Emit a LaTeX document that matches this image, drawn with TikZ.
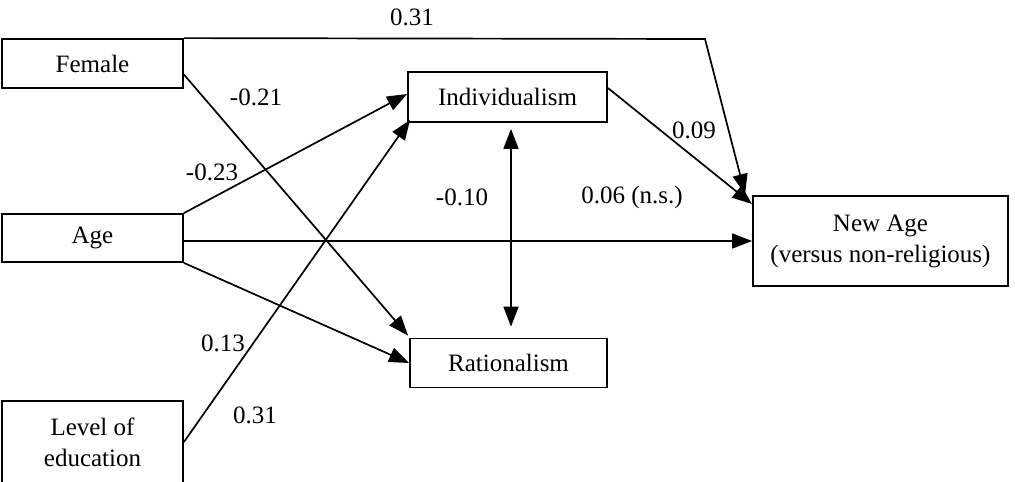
\documentclass[tikz,border=0pt]{standalone}
\usepackage{fontspec}
\setmainfont{Liberation Serif}
\usetikzlibrary{arrows.meta,calc}
\begin{document}
\begin{tikzpicture}[x=1pt,y=-1pt,
  box/.style={draw,line width=1.8pt,rectangle,inner sep=0pt,align=center,font=\fontsize{25}{31}\selectfont},
  lbl/.style={inner sep=0pt,font=\fontsize{25}{31}\selectfont},
  conn/.style={line width=1.7pt,-{Triangle[length=20pt,width=15pt]}},
  both/.style={line width=1.7pt,{Triangle[length=20pt,width=15pt]}-{Triangle[length=20pt,width=15pt]}}]
\useasboundingbox (0,0) rectangle (1015,482);
\node[box,minimum width=181pt,minimum height=49pt] (fem) at (92.5,63.5) {Female};
\node[box,minimum width=181pt,minimum height=48pt] (age) at (92.5,238) {Age};
\node[box,minimum width=181pt,minimum height=82pt] (edu) at (92.5,442) {Level of\\education};
\node[box,minimum width=199pt,minimum height=50pt] (ind) at (507.5,97) {Individualism};
\node[box,minimum width=197pt,minimum height=49pt] (rat) at (508.5,363) {Rationalism};
\node[box,minimum width=255pt,minimum height=90pt] (na) at (880.5,241) {New Age\\(versus non-religious)};
\coordinate (bend) at (705,39);
\draw[conn] (fem.north east) -- (bend) -- ($(na.north west)+(-7,-1)$);
\draw[conn] ($(fem.east)+(0,11)$) -- ($(rat.north west)+(-1,-2)$);
\draw[conn] (age.north east) -- ($(ind.west)+(0,-3)$);
\draw[conn] (edu.east) -- ($(ind.south west)+(3,-3)$);
\draw[conn] (na.west -| age.east) -- (na.west);
\draw[conn] (age.south east) -- (rat.west);
\draw[conn] ($(ind.east)+(0,-9)$) -- ($(na.north west)+(0,9)$);
\draw[both] ($(ind.south)+(3.5,6)$) -- ($(rat.north)+(2.5,-11)$);
\node[lbl] (l1) at (412,17) {0.31};
\node[lbl] (l2) at (256,97) {-0.21};
\node[lbl] (l3) at (212,172) {-0.23};
\node[lbl] (l4) at (462,197) {-0.10};
\node[lbl] (l5) at (632,197) {0.06 (n.s.)};
\node[lbl] (l6) at (694,130) {0.09};
\node[lbl] (l7) at (223,343) {0.13};
\node[lbl] (l8) at (255,415) {0.31};
\end{tikzpicture}
\end{document}
